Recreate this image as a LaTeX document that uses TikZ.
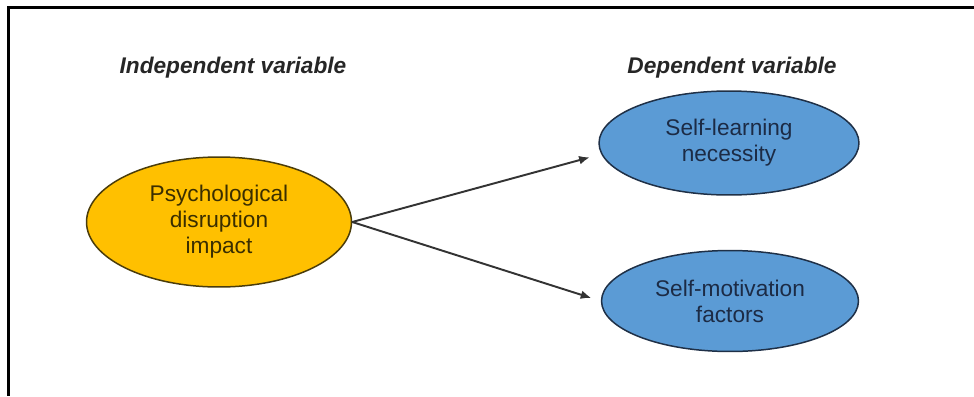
\documentclass[tikz,border=0pt]{standalone}
\usepackage{xcolor}
\usepackage{tikz}
\usepackage{fontspec}
\usetikzlibrary{positioning, shapes.geometric, arrows.meta}

\newfontfamily\diagfont{Liberation Sans}

\definecolor{indepfill}{HTML}{FFC000}
\definecolor{indepline}{HTML}{4A3C0A}
\definecolor{indeptext}{HTML}{3A2E00}
\definecolor{depfill}{HTML}{5B9BD5}
\definecolor{depline}{HTML}{1F3047}
\definecolor{deptext}{HTML}{1C2B45}

\tikzset{
  varbox/.style = {ellipse, draw, line width=0.85pt, inner sep=0pt, align=center,
    font=\diagfont\fontsize{12.9}{14.8}\selectfont},
  indepvar/.style = {varbox, fill=indepfill, draw=indepline, text=indeptext},
  depvar/.style = {varbox, fill=depfill, draw=depline, text=deptext},
  headline/.style = {font=\diagfont\bfseries\itshape\fontsize{12.9}{14.8}\selectfont, text=black!85},
  effect/.style = {-{Latex[length=6pt, width=5pt]}, line width=1.1pt, draw=black!80},
}

\begin{document}
\begin{tikzpicture}[x=0.02cm, y=-0.02cm]
  \useasboundingbox (0,0) rectangle (974,396);

  % frame
  \draw[line width=1.7pt] (974,7.5) -- (8.5,7.5) -- (8.5,396);

  \node[headline] (indephead) at (233,68) {Independent variable};
  \node[headline] (dephead) at (732,68) {Dependent variable};

  % Start variables
  \node[indepvar, minimum width=5.3cm, minimum height=2.6cm] (psych) at (219,222)
    {Psychological\\disruption\\impact};
  \node[depvar, minimum width=5.2cm, minimum height=2.08cm] (learn) at (729,143)
    {Self-learning\\necessity};
  \node[depvar, minimum width=5.14cm, minimum height=2.02cm] (motiv) at (730,301)
    {Self-motivation\\factors};

  \draw[effect, shorten >=0.24cm] (psych.east) -- (learn.185);
  \draw[effect, shorten >=0.2cm] (psych.east) -- (motiv.west);
\end{tikzpicture}
\end{document}
